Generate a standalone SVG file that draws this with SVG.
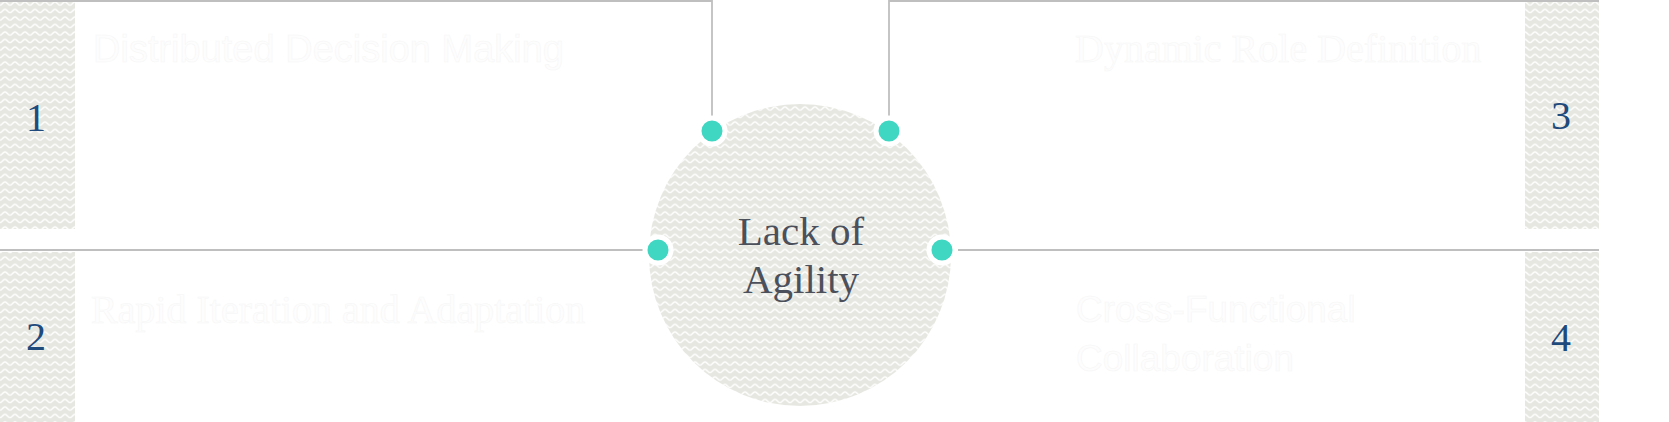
<svg xmlns="http://www.w3.org/2000/svg" width="1669" height="422" viewBox="0 0 1669 422">
<defs>
<pattern id="wave" width="10" height="7.5" patternUnits="userSpaceOnUse">
<rect width="10" height="7.5" fill="#e7e7e2"/>
<path d="M0,5.2 C2.2,5.2 2.8,1.8 5,1.8 C7.2,1.8 7.8,5.2 10,5.2" fill="none" stroke="#ffffff" stroke-width="1.4"/>
</pattern>
<style>
.strip{fill:url(#wave);}
.num{font-family:"Liberation Serif","Times New Roman",serif;font-size:40px;fill:#1f4a7c;text-anchor:middle;}
.ghost-serif{font-family:"Liberation Serif","Times New Roman",serif;font-size:40px;fill:#fdfdfd;stroke:#f6f6f6;stroke-width:0.5;}
.ghost-sans{font-family:"Liberation Sans",Arial,sans-serif;fill:#fdfdfd;stroke:#f6f6f6;stroke-width:0.5;}
.line{stroke:#bfbfbf;stroke-width:1.8;fill:none;}
.dot{fill:#3fd6c2;stroke:#ffffff;stroke-width:5;}
.title{font-family:"Liberation Serif","Times New Roman",serif;font-size:41px;fill:#4b505b;text-anchor:middle;}
</style>
</defs>
<rect width="1669" height="422" fill="#ffffff"/>
<g id="item1">
<rect class="strip" x="0" y="2" width="75" height="227"/>
<text class="num" x="36" y="131">1</text>
<text class="ghost-sans" x="93" y="62" font-size="38">Distributed Decision Making</text>
</g>
<g id="item2">
<rect class="strip" x="0" y="252" width="75" height="170"/>
<text class="num" x="36" y="350">2</text>
<text class="ghost-serif" x="91" y="323">Rapid Iteration and Adaptation</text>
</g>
<g id="item3">
<rect class="strip" x="1525" y="2" width="74" height="227"/>
<text class="num" x="1561" y="129">3</text>
<text class="ghost-serif" x="1075" y="62">Dynamic Role Definition</text>
</g>
<g id="item4">
<rect class="strip" x="1525" y="252" width="74" height="170"/>
<text class="num" x="1561" y="351">4</text>
<text class="ghost-sans" x="1076" y="322" font-size="37">Cross-Functional</text>
<text class="ghost-sans" x="1076" y="371" font-size="37">Collaboration</text>
</g>
<g id="center">
<circle cx="800" cy="255" r="151" fill="url(#wave)"/>
<text class="title" x="801" y="245">Lack of</text>
<text class="title" x="801" y="293">Agility</text>
</g>
<g id="connectors">
<polyline class="line" points="0,1 712,1 712,116"/>
<polyline class="line" points="1599,1 889,1 889,116"/>
<line class="line" x1="0" y1="250" x2="643" y2="250"/>
<line class="line" x1="958" y1="250" x2="1599" y2="250"/>
<circle class="dot" cx="712" cy="131" r="13"/>
<circle class="dot" cx="889" cy="131" r="13"/>
<circle class="dot" cx="658" cy="250" r="13"/>
<circle class="dot" cx="942" cy="250" r="13"/>
</g>
</svg>
